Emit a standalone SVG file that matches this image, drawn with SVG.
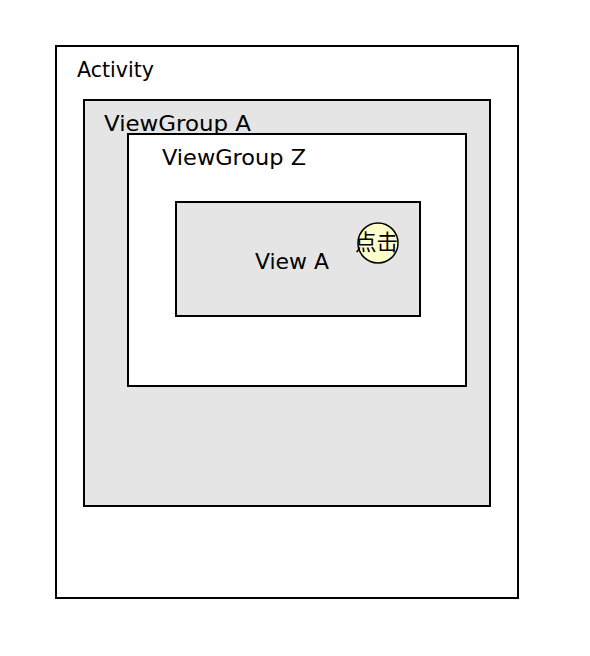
<svg xmlns="http://www.w3.org/2000/svg" width="590" height="656" viewBox="0 0 590 656">
<style>
.box{stroke:#000;stroke-width:2}
.lbl{font-family:"DejaVu Sans","Noto Sans CJK SC",sans-serif;font-size:21.5px;fill:#000}
</style>
<rect width="590" height="656" fill="#fff"/>
<g id="activity">
<rect class="box" x="56" y="46" width="462" height="552" fill="#fff"/>
<text class="lbl" x="77" y="77" textLength="77" lengthAdjust="spacingAndGlyphs">Activity</text>
</g>
<g id="viewgroup-a">
<rect class="box" x="84" y="100" width="406" height="406" fill="#e5e5e5"/>
<text class="lbl" x="104" y="131" textLength="147" lengthAdjust="spacingAndGlyphs">ViewGroup A</text>
</g>
<g id="viewgroup-z">
<rect class="box" x="128" y="134" width="338" height="252" fill="#fff"/>
<text class="lbl" x="162" y="165" textLength="144" lengthAdjust="spacingAndGlyphs">ViewGroup Z</text>
</g>
<g id="view-a">
<rect class="box" x="176" y="202" width="244" height="114" fill="#e5e5e5"/>
<text class="lbl" x="255" y="269" textLength="74" lengthAdjust="spacingAndGlyphs">View A</text>
</g>
<g id="click">
<circle cx="378" cy="243" r="20" fill="#ffffcc" stroke="#000" stroke-width="1.5"/>
<text class="lbl" x="355" y="250" textLength="43" lengthAdjust="spacingAndGlyphs">点击</text>
</g>
<g id="connectors"></g>
</svg>
